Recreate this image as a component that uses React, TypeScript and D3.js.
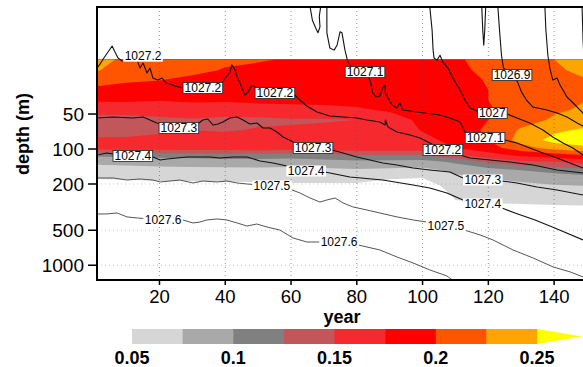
import React from "react";
import * as d3 from "d3";

// ---- grid of the shaded field (rows = depth, columns = year) ----
const years = [0, 10, 20, 30, 40, 50, 60, 70, 80, 90, 100, 110, 120, 130, 140, 150];
const depths = [17, 21, 25, 31, 38, 46, 56, 69, 84, 98, 113, 129, 152, 178, 208, 249, 303, 370];
const field: number[][] = [
  [0.238, 0.218, 0.222, 0.215, 0.205, 0.202, 0.198, 0.192, 0.19, 0.2, 0.195, 0.198, 0.205, 0.215, 0.225, 0.235],
  [0.228, 0.213, 0.212, 0.207, 0.198, 0.195, 0.192, 0.19, 0.188, 0.2, 0.19, 0.195, 0.205, 0.215, 0.222, 0.23],
  [0.212, 0.205, 0.202, 0.195, 0.19, 0.188, 0.186, 0.186, 0.185, 0.195, 0.188, 0.192, 0.202, 0.212, 0.218, 0.225],
  [0.195, 0.19, 0.188, 0.185, 0.183, 0.182, 0.182, 0.182, 0.182, 0.188, 0.186, 0.19, 0.2, 0.21, 0.215, 0.22],
  [0.178, 0.178, 0.176, 0.178, 0.178, 0.18, 0.18, 0.18, 0.182, 0.186, 0.188, 0.19, 0.2, 0.21, 0.22, 0.225],
  [0.16, 0.162, 0.162, 0.165, 0.162, 0.165, 0.168, 0.17, 0.172, 0.178, 0.185, 0.188, 0.198, 0.21, 0.222, 0.228],
  [0.14, 0.14, 0.145, 0.148, 0.145, 0.145, 0.148, 0.148, 0.15, 0.165, 0.18, 0.185, 0.2, 0.215, 0.228, 0.235],
  [0.138, 0.14, 0.145, 0.15, 0.148, 0.152, 0.152, 0.155, 0.16, 0.165, 0.176, 0.185, 0.205, 0.228, 0.245, 0.255],
  [0.155, 0.155, 0.158, 0.16, 0.16, 0.162, 0.163, 0.165, 0.165, 0.168, 0.17, 0.18, 0.2, 0.235, 0.258, 0.265],
  [0.162, 0.163, 0.163, 0.165, 0.163, 0.165, 0.165, 0.165, 0.165, 0.165, 0.165, 0.175, 0.19, 0.215, 0.235, 0.245],
  [0.105, 0.108, 0.11, 0.112, 0.115, 0.115, 0.112, 0.118, 0.125, 0.125, 0.125, 0.145, 0.165, 0.18, 0.19, 0.2],
  [0.08, 0.082, 0.085, 0.086, 0.088, 0.088, 0.087, 0.09, 0.093, 0.092, 0.09, 0.105, 0.13, 0.145, 0.15, 0.16],
  [0.065, 0.066, 0.067, 0.068, 0.068, 0.069, 0.068, 0.07, 0.072, 0.07, 0.068, 0.08, 0.09, 0.1, 0.11, 0.118],
  [0.052, 0.054, 0.056, 0.057, 0.057, 0.058, 0.058, 0.058, 0.058, 0.052, 0.05, 0.07, 0.075, 0.08, 0.085, 0.09],
  [0.035, 0.036, 0.04, 0.04, 0.042, 0.042, 0.045, 0.045, 0.045, 0.038, 0.035, 0.062, 0.066, 0.07, 0.073, 0.075],
  [0.02, 0.02, 0.02, 0.02, 0.02, 0.02, 0.025, 0.025, 0.025, 0.02, 0.02, 0.055, 0.058, 0.06, 0.062, 0.063],
  [0.01, 0.01, 0.01, 0.01, 0.01, 0.01, 0.01, 0.01, 0.01, 0.01, 0.01, 0.045, 0.048, 0.049, 0.05, 0.051],
  [0.01, 0.01, 0.01, 0.01, 0.01, 0.01, 0.01, 0.01, 0.01, 0.01, 0.01, 0.03, 0.03, 0.03, 0.03, 0.032],
];

const levels = [0.05, 0.075, 0.1, 0.125, 0.15, 0.175, 0.2, 0.225, 0.25];
const levelColors = ["#d6d6d6", "#a9a9a9", "#808080", "#c1565b", "#f5292e", "#ff0000", "#ff5400", "#ffa500", "#ffff00"];
const barTicks = [0.05, 0.1, 0.15, 0.2, 0.25];
const xTicks = [20, 40, 60, 80, 100, 120, 140];
const yTicks = [50, 100, 200, 500, 1000];

// ---- isopycnals: [year, depth (m)] ----
const iso1026_7: [number, number][] = [[148.5, 6], [148.8, 11.6], [149.1, 17.2], [151, 20.9]];
const iso1026_8: [number, number][] = [[137.2, 6], [137.5, 9.5], [138.1, 15.6], [138.7, 20.1], [139.6, 25.5], [140.9, 24.5], [141.8, 28.2], [142.7, 31.1], [143.9, 35.7], [145.8, 40.2], [148.8, 49], [151, 54.1]];
const iso1026_9a: [number, number][] = [[118, 6], [118.3, 9.5], [118.6, 12.8], [118.9, 9.5], [119.2, 6]];
const iso1026_9: [number, number][] = [[122.9, 6], [123.4, 9.5], [124, 15.6], [124.6, 20.1], [127, 22.8], [128.9, 26.6], [130.1, 32.4], [131.6, 37.9], [133.5, 43.5], [137.8, 46.2], [140.9, 49], [143.9, 53.1], [147, 59.8], [151, 68.7]];
const iso1027_0: [number, number][] = [[102.2, 6], [102.9, 9.5], [103.2, 14.1], [103.5, 16.5], [104.4, 17.2], [105.3, 15.6], [106.2, 17.9], [107.7, 20.1], [109.2, 24.5], [111.4, 31.1], [112.9, 37.9], [114.4, 44.4], [117, 47.5], [121.2, 49], [125, 49], [128.7, 54.1], [132.6, 59.8], [136.6, 68.7], [139.6, 78.8], [142.7, 88.8], [145.7, 98], [148.8, 112.6], [151, 119.5]];
const iso1027_1a: [number, number][] = [[65.8, 6], [66.5, 7.8], [67.5, 9.1], [68.2, 10], [68.8, 8.9], [68.6, 7.2], [69, 6]];
const iso1027_1: [number, number][] = [[70.9, 6], [70.9, 10], [71.8, 13.5], [73.1, 14.1], [74, 12.8], [74.9, 9.8], [75.5, 10], [76.4, 14.1], [77.3, 17.9], [78.5, 20.1], [82.5, 21.8], [84, 25.5], [84.9, 33], [85.8, 35.7], [87, 35], [87.9, 29.9], [88.6, 28.2], [88.7, 33], [90.7, 41.9], [92.2, 44.4], [93.1, 40.2], [94, 46.2], [98.2, 48.1], [105.2, 51], [108.2, 54.1], [111.4, 58.6], [112.9, 71.4], [119, 80.4], [125, 83.7], [128.7, 88.8], [132.6, 98], [136.6, 108.3], [140.9, 119.5], [144.8, 131.9], [148.8, 145.7], [151, 151.6]];
const iso1027_2: [number, number][] = [[1, 20.1], [1.9, 18.6], [3.1, 16.5], [4.3, 14.7], [5.6, 13], [6.5, 14.7], [7.4, 16.5], [8.6, 17.5], [11, 17.2], [13.2, 17.2], [14.1, 20.1], [15, 18.2], [16.2, 22.2], [17.1, 20.1], [18, 24.5], [19.5, 25.5], [20.8, 24.5], [22, 27.1], [23.2, 27.6], [24.7, 28.7], [27.1, 29.9], [33.2, 29.9], [38.7, 27.6], [41.4, 21.8], [42, 18.9], [43, 20.9], [43.6, 24], [44.5, 27.1], [46, 34.4], [46.9, 32.4], [48.1, 28.2], [49.6, 29.9], [55.1, 33], [61.2, 34.4], [62.7, 37.9], [64.8, 42.7], [67.9, 48.1], [71.8, 52], [75.8, 53.1], [80, 54.1], [83.1, 56.3], [87, 58.6], [88.6, 62.2], [88.7, 56.3], [89.5, 64.7], [92.2, 71.4], [96.2, 75.8], [99.2, 80.4], [102.2, 88.8], [106.2, 102], [111.4, 112.6], [114.4, 119.5], [120.5, 124.3], [126.6, 129.3], [133.6, 137.3], [140.9, 151.6], [148.8, 160.9], [151, 164]];
const iso1027_3: [number, number][] = [[1, 54.1], [5.9, 53.1], [11.9, 54.1], [15, 53.1], [17.1, 56.3], [19.2, 59.8], [25.9, 66], [32, 59.8], [33.2, 56.3], [34.7, 55.2], [36.3, 62.2], [37.8, 61], [39.3, 58.6], [41.4, 54.1], [43.6, 53.1], [45.4, 56.3], [47.5, 61], [49.6, 59.8], [51.5, 66], [53.6, 66], [55.7, 71.4], [57.6, 78.8], [60.7, 87.1], [66.7, 98], [72.5, 102], [75.8, 108.3], [80, 117.2], [84, 124.3], [87.9, 131.9], [92.2, 137.3], [97.1, 145.7], [102.2, 151.6], [108.3, 157.7], [112.3, 177.6], [118.3, 184.8], [124.1, 188.5], [128.7, 196], [134.8, 212], [140.9, 225], [148.8, 249], [151, 254]];
const iso1027_4: [number, number][] = [[1, 112.6], [4, 108.3], [5.9, 110.4], [11.9, 114.9], [18, 117.2], [20.2, 124.3], [22.3, 121.9], [25.3, 119.5], [28.4, 117.2], [32.3, 117.2], [35.4, 117.2], [38.4, 119.5], [42.4, 117.2], [46.6, 117.2], [50.6, 126.8], [54.5, 131.9], [58.8, 140], [64.6, 154.6], [70.3, 157.7], [77.9, 174.2], [87.9, 184.8], [97.1, 204], [102.2, 216.5], [107.4, 239], [112.3, 274.5], [118.3, 297], [124.1, 322], [128.1, 355], [134.2, 408], [140.2, 478], [148.8, 606], [151, 643]];
const iso1027_5: [number, number][] = [[1, 177.6], [5.9, 177.6], [10.1, 184.8], [14.1, 181.2], [18, 184.8], [20.2, 192.2], [23.2, 188.5], [26.2, 184.8], [30.2, 196], [33.2, 188.5], [37.5, 192.2], [40.5, 188.5], [43.6, 196], [46.6, 200], [54.2, 208], [60.3, 225], [62.7, 239], [65.8, 264], [68.8, 286], [70.9, 274.5], [73.4, 264], [75.8, 291], [78.8, 315], [83.1, 335], [87, 355], [92.2, 384], [97.1, 408], [101.3, 425], [107.1, 460], [112.9, 500], [117.5, 549], [121.4, 606], [127.5, 739], [133.6, 866], [139.7, 1035], [144.9, 1142], [148.8, 1261], [151, 1313]];
const iso1027_6: [number, number][] = [[1, 362], [4, 362], [7.1, 355], [10.1, 384], [13.2, 392], [21.1, 408], [27.1, 408], [30.2, 433], [32.3, 425], [34.4, 408], [37.5, 400], [40.5, 408], [43.6, 433], [46.6, 460], [49.6, 442], [52.7, 469], [56.6, 498], [60.6, 583], [64.8, 631], [74.6, 631], [80.4, 669], [87, 739], [92.2, 849], [97.1, 956], [102.2, 1098], [107.4, 1237], [111.4, 1500]];

const isoLines: { value: number; pts: [number, number][] }[] = [
  { value: 1026.7, pts: iso1026_7 },
  { value: 1026.8, pts: iso1026_8 },
  { value: 1026.9, pts: iso1026_9a },
  { value: 1026.9, pts: iso1026_9 },
  { value: 1027.0, pts: iso1027_0 },
  { value: 1027.1, pts: iso1027_1a },
  { value: 1027.1, pts: iso1027_1 },
  { value: 1027.2, pts: iso1027_2 },
  { value: 1027.3, pts: iso1027_3 },
  { value: 1027.4, pts: iso1027_4 },
  { value: 1027.5, pts: iso1027_5 },
  { value: 1027.6, pts: iso1027_6 },
];

// [value, year, depth]
const contourLabels: [number, number, number][] = [
  [1027.2, 15, 15.9], [1027.2, 33.2, 29.9], [1027.2, 55.1, 33], [1027.1, 82.5, 21.8],
  [1026.9, 127.2, 23.1], [1027, 121.2, 49], [1027.1, 119, 80.4], [1027.2, 106.2, 102],
  [1027.3, 25.9, 66], [1027.3, 66.7, 98], [1027.3, 118.3, 184.8],
  [1027.4, 11.9, 114.9], [1027.4, 64.6, 154.6], [1027.4, 118.3, 297],
  [1027.5, 54.2, 208], [1027.5, 107.1, 460], [1027.6, 21.1, 408], [1027.6, 74.6, 631],
];

const FONT = "'Liberation Sans', Arial, Helvetica, sans-serif";

export default function App() {
  const W = 583, H = 367;
  const left = 97, top = 7, bottom = 280, right = 587;
  const x = d3.scaleLinear().domain([1, 150]).range([left, right]);
  const y = d3.scaleLog().domain([6, 1340]).range([top, bottom]);

  const nx = years.length, ny = depths.length;
  const colX = years.map((v) => x(v));
  const rowY = depths.map((d) => y(d));
  const interp = (arr: number[], c: number) => {
    const idx = Math.max(0, Math.min(arr.length - 1, c - 0.5));
    const i = Math.min(arr.length - 2, Math.floor(idx));
    return arr[i] + (idx - i) * (arr[i + 1] - arr[i]);
  };
  const proj = d3.geoTransform({
    point(px: number, py: number) {
      (this as any).stream.point(interp(colX, px), interp(rowY, py));
    },
  });
  const geo = d3.geoPath(proj);
  const bands = d3.contours().size([nx, ny]).thresholds(levels)(field.flat());

  const xi = d3.scaleLinear().domain(years).range(d3.range(nx)).clamp(true);
  const yi = d3.scaleLinear().domain(rowY).range(d3.range(ny)).clamp(true);
  const sample = (yr: number, dp: number) => {
    if (dp < depths[0]) return 0;
    const fx = xi(yr), fy = yi(y(dp));
    const i0 = Math.min(nx - 2, Math.floor(fx)), j0 = Math.min(ny - 2, Math.floor(fy));
    const tx = fx - i0, ty = fy - j0;
    const v = (j: number, i: number) => field[j][i];
    return (1 - ty) * ((1 - tx) * v(j0, i0) + tx * v(j0, i0 + 1)) + ty * ((1 - tx) * v(j0 + 1, i0) + tx * v(j0 + 1, i0 + 1));
  };

  const line = d3.line<[number, number]>().x((d) => x(d[0])).y((d) => y(d[1]));

  const cb = d3.scaleLinear().domain([0.05, 0.25]).range([132, 537]);
  const cbTop = 329, cbH = 15, cbTip = 582;

  const labelWidth = (s: string) => s.split("").reduce((a, ch) => a + (ch === "." ? 3.3 : 6.67), 0) + 3;

  return (
    <>
      <style>{`body{margin:0}`}</style>
      <svg width={W} height={H} style={{ display: "block", background: "#fff" }} fontFamily={FONT}>
        <defs>
          <clipPath id="plotclip">
            <rect x={left} y={top} width={right - left + 5} height={bottom - top} />
          </clipPath>
        </defs>
        <g clipPath="url(#plotclip)">
          {bands.map((b, i) => (
            <path key={i} d={geo(b as any) || ""} fill={levelColors[levels.indexOf(b.value)]} stroke="none" />
          ))}
          {xTicks.map((t) => (
            <line key={"gx" + t} x1={x(t)} x2={x(t)} y1={top} y2={bottom} stroke="#555" strokeWidth={1} strokeDasharray="1 3" opacity={0.6} />
          ))}
          {yTicks.map((t) => (
            <line key={"gy" + t} x1={left} x2={right} y1={y(t)} y2={y(t)} stroke="#777" strokeWidth={0.8} strokeDasharray="1 3" opacity={0.5} />
          ))}
          {isoLines.map((l, i) => (
            <path key={"iso" + i} d={line(l.pts) || ""} fill="none"
              stroke={l.value >= 1027.45 ? "#555" : "#111"} strokeWidth={l.value >= 1027.45 ? 1 : 1.1} strokeLinejoin="round" />
          ))}
          {contourLabels.map(([v, yr, dp], i) => {
            const s = String(v);
            const w = labelWidth(s);
            const cx = x(yr), cy = y(dp);
            const boxed = sample(yr, dp) >= 0.1;
            return (
              <g key={"lab" + i}>
                <rect x={cx - w / 2} y={cy - 5.5} width={w} height={11} fill="#fff"
                  stroke={boxed ? "#222" : "none"} strokeWidth={0.8} />
                <text x={cx} y={cy + 4.2} textAnchor="middle" fontSize={12} fill="#000">{s}</text>
              </g>
            );
          })}
        </g>
        {/* frame */}
        <line x1={left} x2={right + 5} y1={top} y2={top} stroke="#000" strokeWidth={2.2} />
        <line x1={left} x2={left} y1={top - 1} y2={bottom + 1} stroke="#000" strokeWidth={2} />
        <line x1={left} x2={right + 5} y1={bottom} y2={bottom} stroke="#000" strokeWidth={2} />
        {/* y axis */}
        {yTicks.map((t) => (
          <g key={"yt" + t}>
            <line x1={left - 9} x2={left} y1={y(t)} y2={y(t)} stroke="#000" strokeWidth={1.5} />
            <text x={84} y={y(t) + 6.8} textAnchor="end" fontSize={19} fill="#000">{t}</text>
          </g>
        ))}
        {/* x axis */}
        {xTicks.map((t) => (
          <g key={"xt" + t}>
            <line x1={x(t)} x2={x(t)} y1={bottom} y2={bottom + 5} stroke="#000" strokeWidth={1.5} />
            <text x={x(t)} y={303} textAnchor="middle" fontSize={18.5} fill="#000">{t}</text>
          </g>
        ))}
        <text x={(left + right) / 2} y={323} textAnchor="middle" fontSize={18} fontWeight="bold">year</text>
        <text transform={`translate(29,134) rotate(-90)`} textAnchor="middle" fontSize={18} fontWeight="bold">depth (m)</text>
        {/* colour bar */}
        {levels.slice(0, -1).map((lv, i) => (
          <rect key={"cb" + i} x={cb(lv)} y={cbTop} width={cb(levels[i + 1]) - cb(lv) + 0.5} height={cbH} fill={levelColors[i]} />
        ))}
        <path d={`M${cb(0.25)},${cbTop}L${cbTip},${cbTop + cbH / 2}L${cb(0.25)},${cbTop + cbH}Z`} fill={levelColors[levelColors.length - 1]} />
        {barTicks.map((t) => (
          <text key={"cbt" + t} x={cb(t)} y={364} textAnchor="middle" fontSize={18} fontWeight="bold">{String(t)}</text>
        ))}
      </svg>
    </>
  );
}
